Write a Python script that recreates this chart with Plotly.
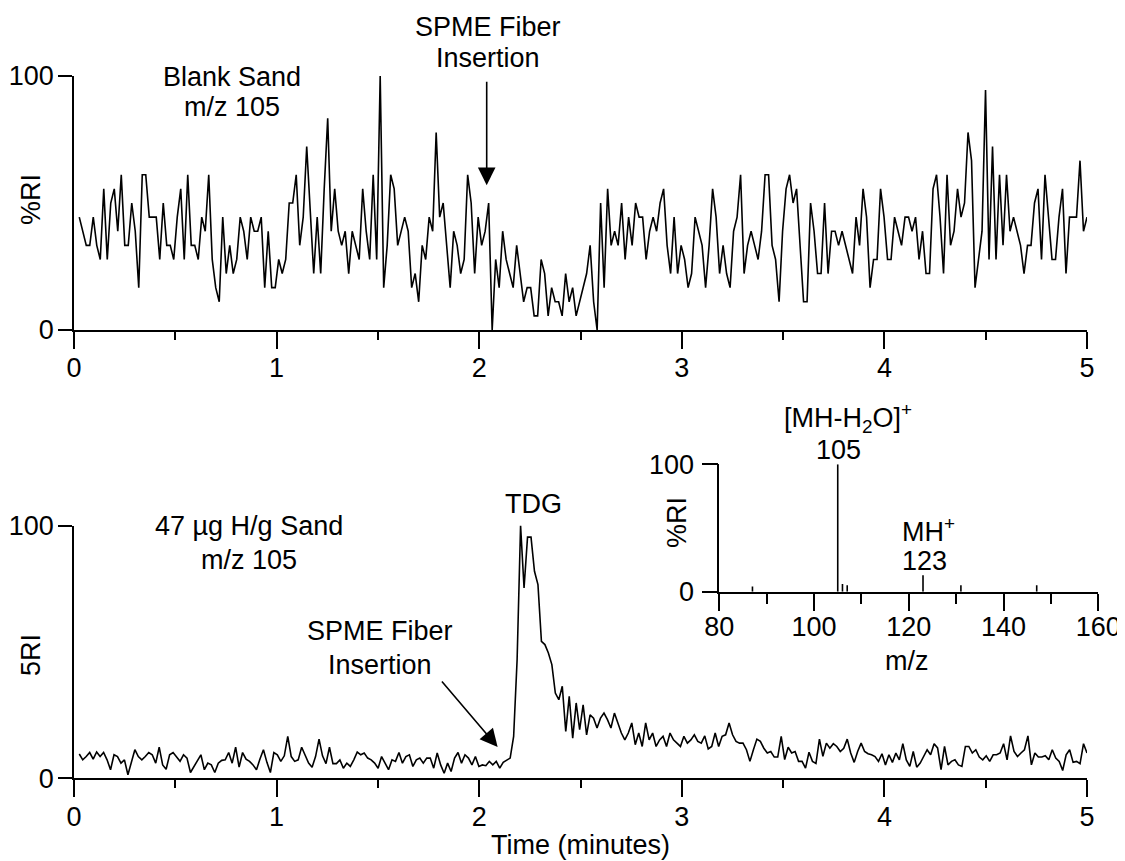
import numpy as np
import plotly.graph_objects as go

W, H = 1125, 861
OFF = 8  # page body margin in the browser
FONT = "Arial, Liberation Sans, sans-serif"
FS = 27
LW = 1.6

# ---------------- data ----------------
# Top chromatogram (blank sand, m/z 105): ion counts per scan (base peak = 100 %RI)
top_counts = [
    8, 7, 6, 6, 8, 6, 5, 10, 5, 9, 10, 7, 11, 6, 6, 9, 7, 3, 11, 11, 8, 8, 8, 5, 9,
    6, 6, 5, 8, 10, 5, 11, 6, 6, 5, 8, 7, 11, 5, 3, 2, 8, 4, 6, 4, 5, 8, 7, 5, 8,
    7, 7, 8, 3, 7, 3, 3, 5, 4, 5, 9, 9, 11, 6, 8, 13, 8, 4, 8, 4, 10, 15, 7, 10, 7,
    6, 7, 4, 7, 6, 5,
    10, 7, 5, 11, 5, 18, 3, 6, 11, 10, 6, 7, 8, 7, 3, 4, 2, 6, 5, 8, 7, 14, 8, 9, 6,
    3, 7, 6, 4, 5, 11, 9, 4, 8, 6, 7, 9, 0, 5, 3, 7, 5, 4, 3, 6, 4, 2, 3, 3, 1,
    1, 5, 4, 1, 3, 2, 2, 1, 4, 2, 3, 1, 2, 3, 4, 6, 2, 0, 9, 3, 10, 6, 7, 6, 9,
    5, 8, 6, 9, 8,
    8, 5, 7, 8, 7, 9, 10, 6, 4, 8, 4, 6, 5, 3, 4, 8, 7, 6, 3, 6, 10, 8, 4, 6, 4,
    3, 7, 8, 11, 4, 6, 7, 6, 5, 7, 11, 11, 6, 5, 2, 7, 10, 11, 9, 10, 6, 2, 2, 9, 7,
    4, 4, 9, 4, 7, 7, 6, 7, 6, 5, 4, 8, 6, 10, 8, 3, 5, 5, 10, 8, 5, 5, 8, 7, 6,
    8, 8, 7, 8, 5,
    7, 4, 4, 10, 11, 8, 4, 11, 6, 7, 10, 8, 9, 14, 12, 3, 5, 7, 17, 5, 13, 5, 11, 6, 11,
    7, 8, 7, 6, 4, 6, 6, 9, 10, 5, 11, 8, 5, 5, 8, 10, 4, 8, 8, 8, 12, 7, 8,
]

# Bottom chromatogram (47 ug H/g sand, m/z 105): %RI per scan
bottom_ri = [
    9.6, 7.3, 8.6, 10.2, 7.6, 10.4, 8.6, 10.2, 7.3, 3.4, 9.3, 8.6, 6.0, 7.3, 1.4,
    6.7, 11.3, 8.6, 7.3, 8.6, 10.2, 9.3, 6.0, 12.3, 5.3, 3.6, 9.3, 10.2, 8.6, 6.7,
    9.3, 8.0, 2.3, 4.7, 7.3, 9.3, 3.4, 6.0, 5.3, 2.3, 6.0, 7.1, 7.3, 10.2, 6.0,
    12.3, 4.4, 10.2, 7.6, 6.7, 5.3, 3.4, 7.6, 11.3, 6.3, 2.3, 10.2, 9.3, 6.7, 8.9,
    16.6, 8.6, 6.7, 7.3, 12.3, 8.9, 6.0, 4.4, 8.6, 15.5, 8.9, 5.8, 12.3, 5.8, 5.8,
    7.3, 4.0, 6.0, 4.7, 7.3, 10.4, 9.3, 10.0, 8.0, 7.3, 6.0, 4.0, 8.6, 6.0, 3.4,
    7.3, 6.7, 10.2, 6.0, 8.6, 9.3, 4.7, 7.3, 8.0, 6.0, 8.0, 8.0, 4.0, 10.0, 5.3,
    2.0, 6.0, 2.7, 8.0, 10.2, 6.0, 9.3, 8.0, 5.3, 8.6, 4.7, 5.3, 5.0, 6.7, 5.3,
    6.7, 4.0, 6.3, 7.3, 8.0, 16.6, 46.9,
    100.0,
    75.3, 95.4, 95.4, 81.9, 76.6, 54.2, 52.9, 49.6, 45.0, 33.7, 31.1, 36.4, 18.5,
    32.4, 15.9, 29.8, 19.2, 29.1, 17.2, 25.1, 23.8, 19.9, 23.8, 25.8, 23.2, 19.9,
    25.8, 21.9, 17.9, 15.2, 17.9, 21.9, 13.3, 17.9, 12.6, 21.9, 15.2, 17.9, 12.6,
    15.2, 16.6, 12.6, 17.9, 15.2, 13.9, 12.6, 16.6, 13.9, 15.2, 17.2, 14.6, 13.9,
    16.8, 11.6, 12.6, 17.9, 12.6, 16.6, 17.2, 21.9, 17.2, 14.6, 13.9, 13.9, 11.3,
    6.7, 11.3, 15.5, 14.6, 11.9, 10.0, 10.6, 8.4, 8.4, 16.6, 7.4, 12.3, 10.0, 10.6,
    6.7, 6.7, 4.0, 10.3, 6.7, 5.9, 15.5, 8.7, 13.9, 11.9, 13.7, 12.6, 10.6, 11.9,
    15.5, 10.0, 6.3, 10.6, 13.9,
    10.6, 9.7, 9.3, 8.6, 6.7, 9.7, 5.3, 9.3, 6.3, 10.0, 7.3, 13.7, 7.3, 4.7, 10.6,
    4.4, 6.0, 8.9, 11.3, 9.3, 13.7, 12.0, 3.4, 12.6, 5.3, 6.7, 7.3, 5.3, 4.7, 12.6,
    12.6, 10.0, 11.3, 8.4, 7.3, 8.9, 6.7, 9.3, 9.3, 10.0, 13.7, 7.3, 16.8, 10.6, 8.6,
    10.0, 11.3, 16.8, 5.3, 10.0, 8.4, 8.4, 8.9, 7.3, 11.3, 8.0, 6.7, 3.1, 9.3, 11.3,
    6.3, 6.7, 5.8, 13.7, 10.0,
]

# scan times (evenly spaced scans over the run)
first_scan_min, last_scan_min = 0.026, 5.0
top_time = np.linspace(first_scan_min, last_scan_min, len(top_counts))
bottom_time = np.linspace(first_scan_min, last_scan_min, len(bottom_ri))
top_ri = [c * 100.0 / max(top_counts) for c in top_counts]

# Inset mass spectrum
inset_mz = [87, 105, 106, 107, 123, 131, 147]
inset_ri = [4, 100, 6, 5, 13, 5, 5]

time_ticks = [0, 1, 2, 3, 4, 5]
mz_ticks = [80, 100, 120, 140, 160]
ri_ticks = [0, 100]

# arrow targets (data coords)
top_arrow = (2.037, 57)
bottom_arrow = (2.091, 12.4)

# ---------------- helpers ----------------
def px(x):
    return (x - OFF) / W


def py(y):
    return 1 - (y - OFF) / H


stick_x, stick_y = [], []
for m, r in zip(inset_mz, inset_ri):
    stick_x += [m, m, None]
    stick_y += [0, r, None]

fig = go.Figure()
fig.add_trace(go.Scatter(x=top_time, y=top_ri, mode="lines",
                         line=dict(color="black", width=LW), xaxis="x", yaxis="y",
                         cliponaxis=False, showlegend=False))
fig.add_trace(go.Scatter(x=bottom_time, y=bottom_ri, mode="lines",
                         line=dict(color="black", width=LW), xaxis="x2", yaxis="y2",
                         cliponaxis=False, showlegend=False))
fig.add_trace(go.Scatter(x=stick_x, y=stick_y, mode="lines",
                         line=dict(color="black", width=LW), xaxis="x3", yaxis="y3",
                         cliponaxis=False, showlegend=False))

axis_common = dict(showline=True, linecolor="black", linewidth=LW, ticks="outside",
                   tickcolor="black", tickwidth=LW, showgrid=False, zeroline=False,
                   automargin=False,
                   tickfont=dict(family=FONT, size=FS, color="black"))

xa = dict(axis_common, range=[0, 5], tickvals=time_ticks, ticklen=17,
          ticklabelstandoff=-4,
          minor=dict(ticks="outside", dtick=0.5, tick0=0, ticklen=8,
                     tickcolor="black", tickwidth=LW, showgrid=False))
ya = dict(axis_common, range=[0, 100], tickvals=ri_ticks, ticklen=14,
          ticklabelstandoff=-1)

fig.update_layout(
    width=W, height=H,
    margin=dict(l=0, r=0, t=0, b=0, autoexpand=False),
    paper_bgcolor="white", plot_bgcolor="rgba(0,0,0,0)",
    font=dict(family=FONT, size=FS, color="black"),
    xaxis=dict(xa, domain=[px(74), px(1087)], anchor="y"),
    yaxis=dict(ya, domain=[py(330), py(76)], anchor="x"),
    xaxis2=dict(xa, domain=[px(74), px(1087)], anchor="y2"),
    yaxis2=dict(ya, domain=[py(778.3), py(525.5)], anchor="x2"),
    xaxis3=dict(axis_common, range=[80, 160], tickvals=mz_ticks, ticklen=17,
                ticklabelstandoff=-7,
                domain=[px(719.3), px(1098.3)], anchor="y3",
                minor=dict(ticks="outside", dtick=10, tick0=80, ticklen=10,
                           tickcolor="black", tickwidth=LW, showgrid=False)),
    yaxis3=dict(ya, ticklen=16, ticklabelstandoff=2,
                domain=[py(591.7), py(464.3)], anchor="x3"),
)


def label(text, x, y, angle=0):
    fig.add_annotation(text=text, x=px(x), y=py(y), xref="paper", yref="paper",
                       showarrow=False, xanchor="center", yanchor="middle",
                       align="center", textangle=angle,
                       font=dict(family=FONT, size=FS, color="black"))


label("SPME Fiber", 488, 27)
label("Insertion", 488, 58)
label("Blank Sand", 232, 77)
label("m/z 105", 232, 107)
label("%RI", 31, 200, -90)
label("47 µg H/g Sand", 249, 526)
label("m/z 105", 249, 560)
label("TDG", 533, 504)
label("SPME Fiber", 380, 631)
label("Insertion", 380, 665)
label("5RI", 31, 655, -90)
label("Time (minutes)", 580, 845)
label("[MH-H<sub>2</sub>O]<sup>+</sup>", 848, 418)
label("105", 838, 450)
label("MH<sup>+</sup>", 928, 530)
label("123", 924, 561)
label("%RI", 677, 523, -90)
label("m/z", 907, 661)

for (xr, yr, pt, ax, ay) in [("x", "y", top_arrow, 0, -105),
                             ("x2", "y2", bottom_arrow, -57, -67)]:
    fig.add_annotation(text="", x=pt[0], y=pt[1], xref=xr, yref=yr,
                       showarrow=True, ax=ax, ay=ay, arrowhead=2, arrowsize=2.2,
                       arrowwidth=LW, arrowcolor="black", standoff=0)

fig.write_html("out.html")
